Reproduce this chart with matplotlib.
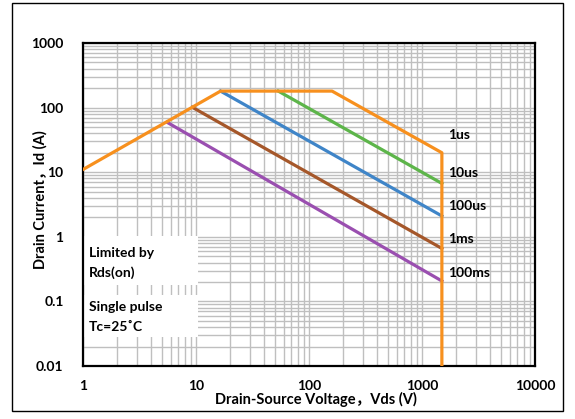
import matplotlib
matplotlib.use("Agg")
import matplotlib.pyplot as plt
from matplotlib.patches import Rectangle

# ---- data ----
orange_v = [1, 16.5, 160, 1500, 1500]
orange_i = [11, 180, 180, 20, 0.01]
green_v = [53.5, 1500]
green_i = [180, 6.7]
blue_v = [16.5, 1500]
blue_i = [180, 2.1]
brown_v = [9.3, 1500]
brown_i = [101, 0.66]
purple_v = [5.57, 1500]
purple_i = [59, 0.207]

curve_labels = ["1us", "10us", "100us", "1ms", "100ms"]
label_y = [37.7, 9.7, 3.0, 0.92, 0.275]
label_x = 1700

x_ticks = [1, 10, 100, 1000, 10000]
x_ticklabels = ["1", "10", "100", "1000", "10000"]
y_ticks = [0.01, 0.1, 1, 10, 100, 1000]
y_ticklabels = ["0.01", "0.1", "1", "10", "100", "1000"]

FONT = ["Lato", "Noto Sans CJK SC", "DejaVu Sans"]
plt.rcParams['font.family'] = FONT

fig = plt.figure(figsize=(5.75, 4.19), dpi=100)
ax = fig.add_axes([0.1443, 0.1265, 0.7861, 0.7709])
ax.set_xscale("log")
ax.set_yscale("log")
ax.set_xlim(1, 10000)
ax.set_ylim(0.01, 1000)

ax.set_axisbelow(True)
ax.grid(True, which="both", color="#BFBFBF", linewidth=1.0)
ax.tick_params(which="both", length=0)
ax.set_xticks(x_ticks)
ax.set_xticklabels(x_ticklabels, fontsize=10, fontweight="bold")
ax.set_yticks(y_ticks)
ax.set_yticklabels(y_ticklabels, fontsize=10, fontweight="bold")
ax.tick_params(axis="x", pad=10)
ax.tick_params(axis="y", pad=14)
for s in ax.spines.values():
    s.set_linewidth(1.6)
    s.set_color("black")

# white boxes covering the grid
for (y0, h) in [(0.251, 0.151), (0.0898, 0.130)]:
    ax.add_patch(Rectangle((0.0, y0), 0.254, h, transform=ax.transAxes,
                           facecolor="white", edgecolor="none", zorder=1))

lw = 2.3
ax.plot(purple_v, purple_i, color="#9A4FB0", lw=lw, zorder=3)
ax.plot(brown_v, brown_i, color="#A5572A", lw=lw, zorder=3)
ax.plot(blue_v, blue_i, color="#3F85C8", lw=lw, zorder=3)
ax.plot(green_v, green_i, color="#5DB54A", lw=lw, zorder=3)
ax.plot(orange_v, orange_i, color="#F7901E", lw=lw, zorder=4)

for lab, yv in zip(curve_labels, label_y):
    ax.text(label_x, yv, lab, fontsize=10, fontweight="bold", va="center", ha="left", zorder=5)

ax.text(0.013, 0.35, "Limited by", transform=ax.transAxes, fontsize=10, fontweight="bold", va="center", zorder=5)
ax.text(0.013, 0.288, "Rds(on)", transform=ax.transAxes, fontsize=10, fontweight="bold", va="center", zorder=5)
ax.text(0.013, 0.183, "Single pulse", transform=ax.transAxes, fontsize=10, fontweight="bold", va="center", zorder=5)
ax.text(0.013, 0.121, "Tc=25˚C", transform=ax.transAxes, fontsize=10, fontweight="bold", va="center", zorder=5)

fig.text(316/575, 1 - 399/419, "Drain-Source Voltage，Vds (V)", ha="center", va="center",
         fontsize=10.5, fontweight="bold")
fig.text(40/575, 1 - 200/419, "Drain Current，Id (A)", ha="center", va="center",
         rotation=90, fontsize=10.5, fontweight="bold")

# outer border
fig.patches.append(Rectangle((12/575, 1 - 411/419), (563-12)/575, (411-3)/419,
                             transform=fig.transFigure, facecolor="none",
                             edgecolor="black", linewidth=1.0))

fig.savefig("out.png", dpi=100)
